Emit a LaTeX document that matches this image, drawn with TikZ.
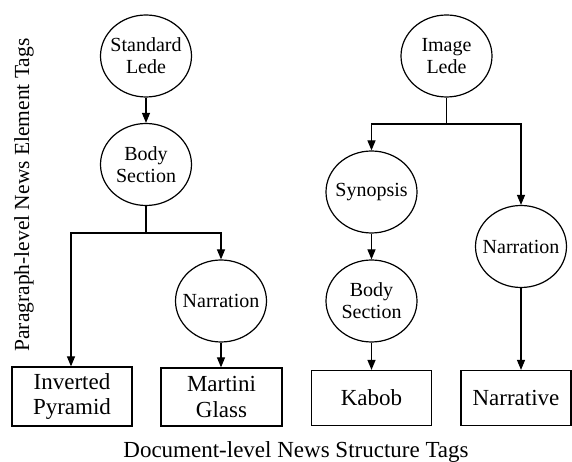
\documentclass[tikz,border=0pt]{standalone}
\usepackage{fontspec}
\setmainfont{Liberation Serif}
\usetikzlibrary{shapes.geometric,arrows.meta}
\begin{document}
\begin{tikzpicture}[x=1pt,y=1pt,
  elltext/.style={align=center, inner sep=0pt, font=\fontsize{20}{22}\selectfont},
  tagell/.style={draw, line width=1.2pt, ellipse, inner sep=0pt, minimum width=91pt, minimum height=82pt, label={[elltext]center:#1}},
  tagbox/.style={draw, line width=1.2pt, rectangle, inner sep=0pt, align=center, font=\fontsize{23}{25}\selectfont},
  conn/.style={line width=1.2pt},
  arr/.style={line width=1.2pt, -{Triangle[length=10pt,width=8pt]}}]
\useasboundingbox (0,0) rectangle (572,462);
% left tree
\node[tagell={Standard\\Lede}] (sl) at (146,406) {};
\node[tagell={Body\\Section}] (bs1) at (146,297.5) {};
\node[tagell={Narration}] (n1) at (221,161) {};
\node[tagbox, minimum width=120pt, minimum height=59pt] (ip) at (72,65.5) {Inverted\\Pyramid};
\node[tagbox, minimum width=121pt, minimum height=58pt] (mg) at (221.5,65) {Martini\\Glass};
\coordinate (j1) at (146,229);
\draw[arr] (sl) -- (bs1);
\draw[conn] (bs1) -- (j1);
\draw[arr] (j1) -| (ip.north -| 71,0);
\draw[arr] (j1) -| (n1);
\draw[arr] (n1) -- (n1.south |- mg.north);
% right tree
\node[tagell={Image\\Lede}] (il) at (446.5,406) {};
\node[tagell={Synopsis}] (syn) at (371.5,270) {};
\node[tagell={Body\\Section}] (bs2) at (371.5,161) {};
\node[tagell={Narration}] (n2) at (521,215.5) {};
\node[tagbox, minimum width=120pt, minimum height=55pt] (kb) at (371.5,64) {Kabob};
\node[tagbox, minimum width=110pt, minimum height=55pt] (nv) at (516,64) {Narrative};
\coordinate (j2) at (446.5,338);
\draw[conn] (il) -- (j2);
\draw[arr] (j2) -| (syn);
\draw[arr] (j2) -| (n2);
\draw[arr] (syn) -- (bs2);
\draw[arr] (bs2) -- (kb);
\draw[arr] (n2) -- (n2.south |- nv.north);
% axis labels
\node[rotate=90, inner sep=0pt, font=\fontsize{21.5}{24}\selectfont] (yl) at (24,267) {Paragraph-level News Element Tags};
\node[anchor=base, inner sep=0pt, font=\fontsize{23}{26}\selectfont] (xl) at (296,4) {Document-level News Structure Tags};
\end{tikzpicture}
\end{document}
